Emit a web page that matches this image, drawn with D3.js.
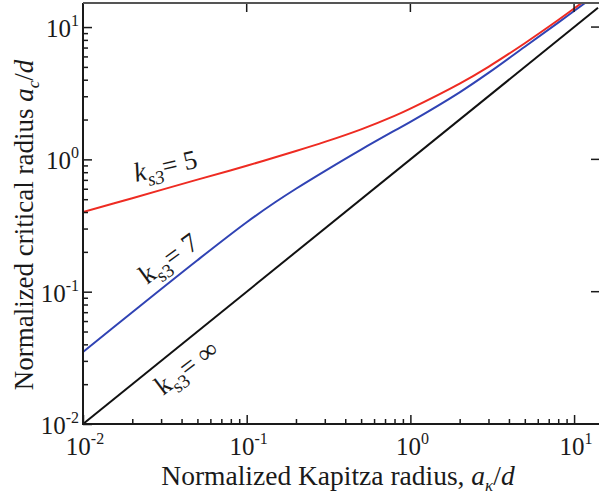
<!DOCTYPE html>
<html>
<head>
<meta charset="utf-8">
<script src="https://cdn.jsdelivr.net/npm/d3@7"></script>
<style>
  body { margin: 0; background: #fff; }
  text { font-family: "Liberation Serif", "Times New Roman", serif; fill: #1a1a1a; }
</style>
</head>
<body>
<svg id="chart" width="599" height="501"></svg>
<script>
// values (a_K/d on x, a_c/d on y)
const redX = [0.01, 0.02, 0.05, 0.1, 0.2, 0.3, 0.5, 0.8, 1, 2, 3, 5, 8, 10, 11.5];
const redY = [0.40, 0.509, 0.703, 0.895, 1.156, 1.355, 1.687, 2.133, 2.42, 3.74, 5.01, 7.55, 11.3, 13.8, 15.7];

const blueX = [0.01, 0.02, 0.05, 0.1, 0.15, 0.2, 0.3, 0.5, 0.8, 1, 2, 3, 5, 8, 12];
const blueY = [0.035, 0.070, 0.173, 0.335, 0.476, 0.600, 0.816, 1.186, 1.648, 1.92, 3.21, 4.50, 7.10, 10.8, 15.6];

const blackX = [0.01, 14];
const blackY = [0.01, 14];

const majorTicks = [0.01, 0.1, 1, 10];
const tickExps = ["-2", "-1", "0", "1"];

const svg = d3.select("#chart");
const plotLeft = 83, plotRight = 598, plotTop = 3, plotBottom = 424;

const x = d3.scaleLog().domain([0.01, 14]).range([plotLeft, plotRight]);
const y = d3.scaleLog().domain([0.01, 15.2]).range([plotBottom, plotTop]);

function isMajor(d) {
  const l = Math.log10(d);
  return Math.abs(l - Math.round(l)) < 1e-6;
}

svg.append("defs").append("clipPath").attr("id", "plotClip")
  .append("rect")
  .attr("x", plotLeft).attr("y", plotTop)
  .attr("width", plotRight - plotLeft + 2).attr("height", plotBottom - plotTop);

// curves
const line = d3.line()
  .x(d => x(d[0]))
  .y(d => y(d[1]))
  .curve(d3.curveCatmullRom.alpha(0.5));

const series = [
  { xs: blackX, ys: blackY, color: "#111111" },
  { xs: blueX, ys: blueY, color: "#3043b4" },
  { xs: redX, ys: redY, color: "#ee2b22" }
];

const plot = svg.append("g").attr("clip-path", "url(#plotClip)");
series.forEach(s => {
  plot.append("path")
    .datum(s.xs.map((v, i) => [v, s.ys[i]]))
    .attr("fill", "none")
    .attr("stroke", s.color)
    .attr("stroke-width", 2)
    .attr("d", line);
});

// bottom axis, ticks pointing in
const gx = svg.append("g")
  .attr("transform", "translate(0," + plotBottom + ")")
  .call(d3.axisBottom(x).tickValues(x.ticks()).tickFormat("").tickSizeOuter(0));
gx.select(".domain").remove();
gx.selectAll(".tick line")
  .attr("y2", d => isMajor(d) ? -9 : -5)
  .attr("stroke", "#1a1a1a")
  .attr("stroke-width", 1.5);

// left axis
const gy = svg.append("g")
  .attr("transform", "translate(" + plotLeft + ",0)")
  .call(d3.axisLeft(y).tickValues(y.ticks()).tickFormat("").tickSizeOuter(0));
gy.select(".domain").remove();
gy.selectAll(".tick line")
  .attr("x2", d => isMajor(d) ? 9 : 5)
  .attr("stroke", "#1a1a1a")
  .attr("stroke-width", 1.5);

// top and right: major ticks only
svg.append("g").selectAll("line")
  .data(majorTicks.filter(d => d > 0.01))
  .enter().append("line")
  .attr("x1", d => x(d)).attr("x2", d => x(d))
  .attr("y1", plotTop).attr("y2", plotTop + 9)
  .attr("stroke", "#1a1a1a").attr("stroke-width", 1.5);

svg.append("g").selectAll("line")
  .data(majorTicks.filter(d => d > 0.01))
  .enter().append("line")
  .attr("x1", 599).attr("x2", 591)
  .attr("y1", d => y(d)).attr("y2", d => y(d))
  .attr("stroke", "#1a1a1a").attr("stroke-width", 1.5);

// frame
svg.append("path")
  .attr("d", "M" + plotLeft + "," + plotTop + "V" + plotBottom + "H" + 599)
  .attr("fill", "none").attr("stroke", "#1a1a1a").attr("stroke-width", 2);
svg.append("line")
  .attr("x1", plotLeft).attr("x2", 599).attr("y1", plotTop).attr("y2", plotTop)
  .attr("stroke", "#555").attr("stroke-width", 2);

// tick labels
function powerLabel(g, px, py, exp, anchor) {
  const t = g.append("text")
    .attr("x", px).attr("y", py)
    .attr("text-anchor", anchor)
    .attr("font-size", 25);
  t.append("tspan").text("10");
  t.append("tspan").attr("dy", -11).attr("font-size", 16).text(exp);
}

const labels = svg.append("g");
majorTicks.forEach((v, i) => {
  powerLabel(labels, x(v) + 2, 455, tickExps[i], "middle");
  powerLabel(labels, 79, y(v) + 10, tickExps[i], "end");
});

// axis titles
const xt = svg.append("text")
  .attr("x", 338).attr("y", 485)
  .attr("text-anchor", "middle")
  .attr("font-size", 27.5);
xt.append("tspan").text("Normalized Kapitza radius, ");
xt.append("tspan").attr("font-style", "italic").text("a");
xt.append("tspan").attr("font-style", "italic").attr("font-size", 17).attr("dy", 6).text("κ");
xt.append("tspan").attr("dy", -6).text("/");
xt.append("tspan").attr("font-style", "italic").text("d");

const yt = svg.append("text")
  .attr("transform", "translate(33,225) rotate(-90)")
  .attr("text-anchor", "middle")
  .attr("font-size", 27);
yt.append("tspan").text("Normalized critical radius ");
yt.append("tspan").attr("font-style", "italic").text("a");
yt.append("tspan").attr("font-style", "italic").attr("font-size", 17).attr("dy", 6).text("c");
yt.append("tspan").attr("dy", -6).text("/");
yt.append("tspan").attr("font-style", "italic").text("d");

// curve annotations
function kLabel(px, py, angle, tail, italic) {
  const t = svg.append("text")
    .attr("transform", "translate(" + px + "," + py + ") rotate(" + angle + ")")
    .attr("font-size", 27);
  t.append("tspan").attr("font-style", italic ? "italic" : null).text("k");
  t.append("tspan").attr("font-style", italic ? "italic" : null)
    .attr("font-size", 19).attr("dy", 7).text("s3");
  t.append("tspan").attr("dy", -7).text(tail);
}
kLabel(136, 182, -13, "= 5", true);
kLabel(147, 285, -36, "= 7", false);
kLabel(163, 396, -37, "= ∞", false);
</script>
</body>
</html>
